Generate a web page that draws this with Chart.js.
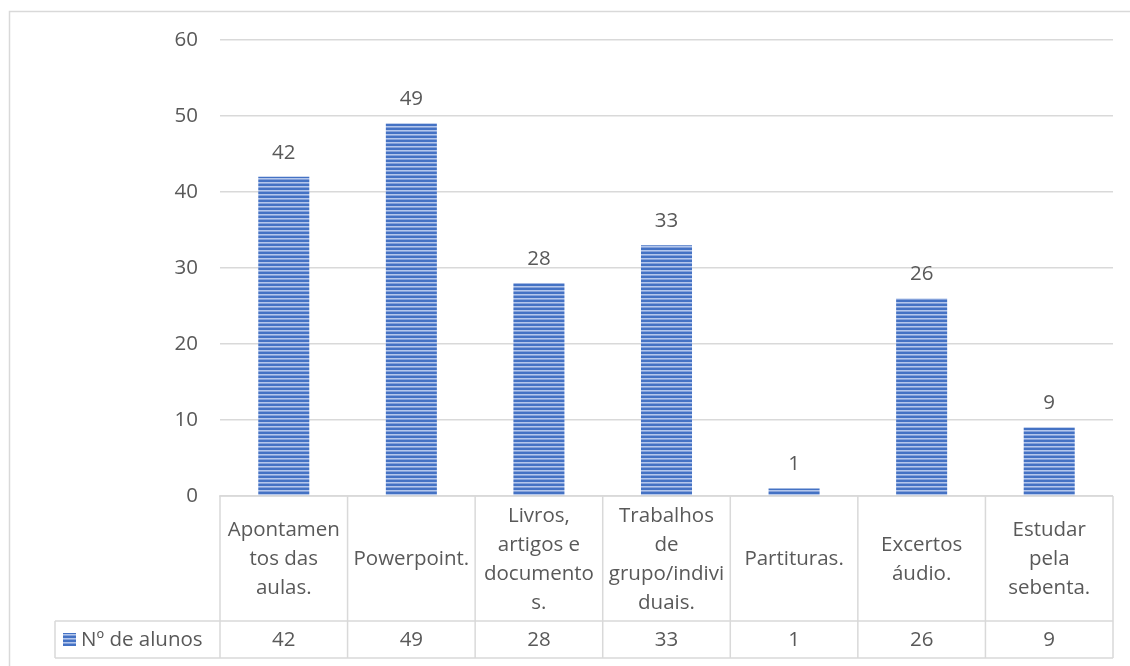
<!DOCTYPE html>
<html>
<head>
<meta charset="utf-8">
<script src="https://cdn.jsdelivr.net/npm/chart.js@4.4.1/dist/chart.umd.min.js"></script>
<style>
  html, body { margin: 0; padding: 0; background: #ffffff; }
  #wrap { width: 1130px; height: 666px; position: relative; }
</style>
</head>
<body>
<div id="wrap"><canvas id="c" width="1130" height="666"></canvas></div>
<script>
// Categories (already split into the lines shown in the table header)
const categories = [
  ["Apontamen", "tos das", "aulas."],
  ["Powerpoint."],
  ["Livros,", "artigos e", "documento", "s."],
  ["Trabalhos", "de", "grupo/indivi", "duais."],
  ["Partituras."],
  ["Excertos", "áudio."],
  ["Estudar", "pela", "sebenta."]
];
const seriesName = "Nº de alunos";
const alunos = [42, 49, 28, 33, 1, 26, 9];
const yTicks = [0, 10, 20, 30, 40, 50, 60];

const FONT = '"Open Sans", "Noto Sans", sans-serif';
const FSIZE = 20.5;
const TEXT = '#595959';
const LINE = '#d9d9d9';

// Horizontal-stripe fill used for the bars and the legend key
function stripePattern() {
  const p = document.createElement('canvas');
  p.width = 4; p.height = 4;
  const g = p.getContext('2d');
  g.fillStyle = '#4472c4'; g.fillRect(0, 0, 4, 4);
  g.fillStyle = '#b4c7ec'; g.fillRect(0, 2, 4, 1);
  g.fillStyle = '#84a1da'; g.fillRect(0, 3, 4, 1);
  return document.getElementById('c').getContext('2d').createPattern(p, 'repeat');
}
const stripes = stripePattern();

// Outer frame of the chart
const framePlugin = {
  id: 'frame',
  beforeDraw(chart) {
    const ctx = chart.ctx;
    ctx.save();
    ctx.strokeStyle = LINE;
    ctx.lineWidth = 1.5;
    ctx.beginPath();
    ctx.moveTo(9.5, 700);
    ctx.lineTo(9.5, 11.5);
    ctx.lineTo(1140, 11.5);
    ctx.stroke();
    ctx.restore();
  }
};

// Value labels above each bar
const valueLabels = {
  id: 'valueLabels',
  afterDatasetsDraw(chart) {
    const ctx = chart.ctx;
    const meta = chart.getDatasetMeta(0);
    ctx.save();
    ctx.font = FSIZE + 'px ' + FONT;
    ctx.fillStyle = TEXT;
    ctx.textAlign = 'center';
    ctx.textBaseline = 'middle';
    meta.data.forEach((bar, i) => {
      ctx.fillText(String(chart.data.datasets[0].data[i]), bar.x, bar.y - 24);
    });
    ctx.restore();
  }
};

// Data table under the plot: category header row and value row with legend key
const dataTable = {
  id: 'dataTable',
  afterDraw(chart) {
    const ctx = chart.ctx;
    const area = chart.chartArea;
    const n = chart.data.labels.length;
    const w = (area.right - area.left) / n;
    const top = area.bottom;
    const mid = top + 125;
    const bot = mid + 37;
    const legLeft = 55;
    ctx.save();
    ctx.strokeStyle = LINE;
    ctx.lineWidth = 1.5;
    ctx.beginPath();
    ctx.moveTo(area.left - 1, top); ctx.lineTo(area.right, top);
    ctx.moveTo(legLeft, mid); ctx.lineTo(area.right, mid);
    ctx.moveTo(legLeft, bot); ctx.lineTo(area.right, bot);
    for (let i = 0; i <= n; i++) {
      const x = area.left + i * w;
      ctx.moveTo(x, top); ctx.lineTo(x, bot);
    }
    ctx.moveTo(legLeft, mid); ctx.lineTo(legLeft, bot);
    ctx.stroke();

    ctx.font = FSIZE + 'px ' + FONT;
    ctx.fillStyle = TEXT;
    ctx.textAlign = 'center';
    ctx.textBaseline = 'middle';
    const lh = 29;
    chart.data.labels.forEach((lines, i) => {
      const cx = area.left + (i + 0.5) * w;
      const cy = (top + mid) / 2 + 1;
      const y0 = cy - (lines.length - 1) * lh / 2;
      lines.forEach((t, k) => ctx.fillText(t, cx, y0 + k * lh));
      ctx.fillText(String(chart.data.datasets[0].data[i]), cx, (mid + bot) / 2 + 1);
    });

    // legend key + series name
    ctx.fillStyle = stripes;
    ctx.fillRect(63, 633, 13, 13);
    ctx.fillStyle = TEXT;
    ctx.textAlign = 'left';
    ctx.fillText(chart.data.datasets[0].label, 81, (mid + bot) / 2 + 1);
    ctx.restore();
  }
};

new Chart(document.getElementById('c'), {
  type: 'bar',
  data: {
    labels: categories,
    datasets: [{
      label: seriesName,
      data: alunos,
      backgroundColor: stripes,
      borderWidth: 0,
      categoryPercentage: 1.0,
      barPercentage: 0.4
    }]
  },
  options: {
    responsive: false,
    animation: false,
    layout: { padding: { left: 0, right: 17, top: 40, bottom: 170 } },
    plugins: {
      legend: { display: false },
      tooltip: { enabled: false }
    },
    scales: {
      x: { display: false },
      y: {
        min: 0,
        max: 60,
        afterBuildTicks(scale) { scale.ticks = yTicks.map(v => ({ value: v })); },
        afterFit(scale) { scale.width = 220; },
        grid: { color: LINE, lineWidth: 1.5, drawTicks: false },
        border: { display: false },
        ticks: {
          padding: 22,
          color: TEXT,
          font: { family: FONT, size: FSIZE }
        }
      }
    }
  },
  plugins: [framePlugin, valueLabels, dataTable]
});
</script>
</body>
</html>
